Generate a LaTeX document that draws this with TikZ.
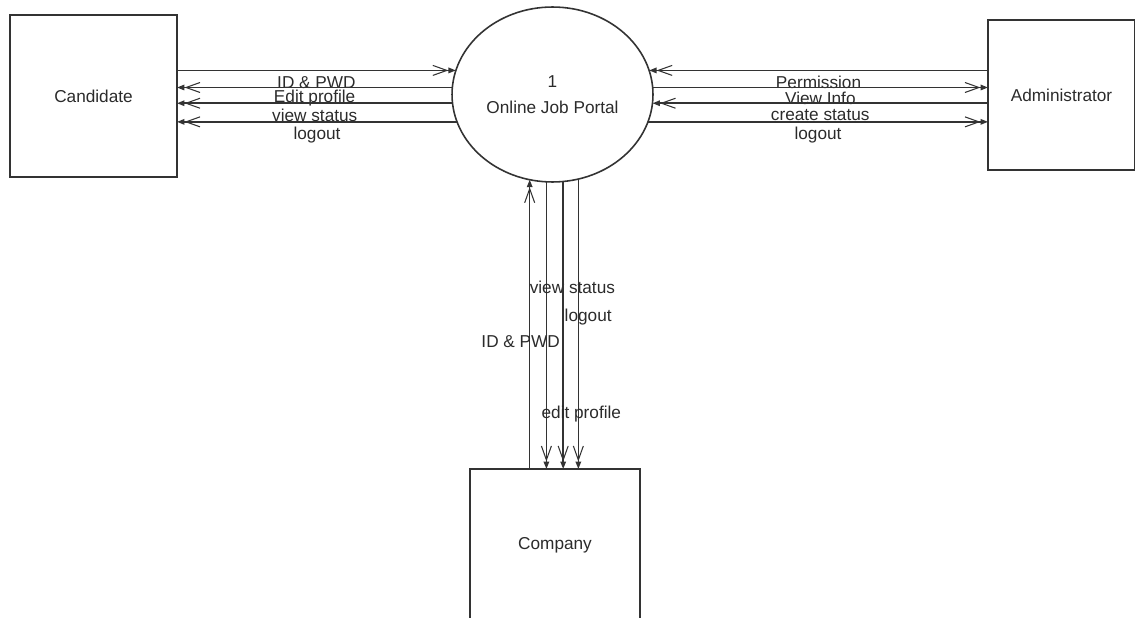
\documentclass[tikz,border=0pt]{standalone}
\usepackage{fontspec}
\setmainfont{Liberation Sans}
\usetikzlibrary{arrows.meta,positioning,calc,shapes.geometric}
\definecolor{dfdink}{HTML}{333333}
\definecolor{dfdtext}{HTML}{2B2B2B}
\tikzset{
  dfd/.style={font=\fontsize{9.8}{13}\selectfont, text=dfdtext},
  dfdbox/.style={draw=dfdink, line width=0.9pt, fill=white, outer sep=0pt, inner sep=0pt},
  dfdproc/.style={ellipse, draw=dfdink, line width=0.9pt, fill=white, outer sep=0pt,
    inner sep=0pt, align=center},
  dfdarr/.style={-{Straight Barb[length=2.8mm,width=2mm,line width=0.6pt,sep=0pt]
      Triangle[length=1.5mm,width=1.1mm]},
    line width=0.9pt, draw=dfdink},
  dfdlbl/.style={font=\fontsize{9.8}{13}\selectfont, text=dfdtext, inner sep=0pt},
}

\begin{document}
\begin{tikzpicture}[dfd, x=0.02cm, y=-0.02cm]
  \useasboundingbox (0,0) rectangle (1135,618);
  % external entities and the process
  \node[dfdbox, minimum width=3.34cm, minimum height=3.24cm] (cand) at (93.5,96) {Candidate};
  \node[dfdbox, minimum width=2.94cm, minimum height=3cm] (admin) at (1061.5,95) {Administrator};
  \node[dfdbox, minimum width=3.4cm, minimum height=3.04cm] (comp) at (555,545) {Company};
  \node[dfdproc, minimum width=4.02cm, minimum height=3.5cm] (portal) at (552.5,94.5) {%
    1\\[2pt] Online Job Portal};
  % candidate flows
  \draw[dfdarr] (cand.east |- portal.166) -- (portal.166)
    node[dfdlbl, midway, yshift=-0.24cm] {ID \& PWD};
  \draw[dfdarr] (portal.176) -- (cand.east |- portal.176)
    node[dfdlbl, midway, yshift=-0.22cm] {Edit profile};
  \draw[dfdarr] (portal.185) -- (cand.east |- portal.185)
    node[dfdlbl, midway, yshift=-0.24cm] {view status};
  \draw[dfdarr] (portal.196) -- (cand.east |- portal.196)
    node[dfdlbl, midway, yshift=-0.26cm] {logout};
  % administrator flows
  \draw[dfdarr] (admin.west |- portal.14) -- (portal.14)
    node[dfdlbl, midway, yshift=-0.24cm] {Permission};
  \draw[dfdarr] (portal.4) -- (admin.west |- portal.4)
    node[dfdlbl, midway, yshift=-0.22cm] {View Info};
  \draw[dfdarr] (admin.west |- portal.355) -- (portal.355)
    node[dfdlbl, midway, yshift=-0.24cm] {create status};
  \draw[dfdarr] (portal.344) -- (admin.west |- portal.344)
    node[dfdlbl, midway, yshift=-0.26cm] {logout};
  % company flows
  \draw[dfdarr] (portal.255 |- comp.north) -- (portal.255)
    node[dfdlbl, pos=0.44, xshift=-0.18cm] {ID \& PWD};
  \draw[dfdarr] (portal.266) -- (portal.266 |- comp.north)
    node[dfdlbl, pos=0.366, xshift=0.52cm] {view status};
  \draw[dfdarr] (portal.277) -- (portal.277 |- comp.north)
    node[dfdlbl, pos=0.47, xshift=0.5cm] {logout};
  \draw[dfdarr] (portal.287) -- (portal.287 |- comp.north)
    node[dfdlbl, pos=0.81, xshift=0.06cm] {edit profile};
\end{tikzpicture}
\end{document}
